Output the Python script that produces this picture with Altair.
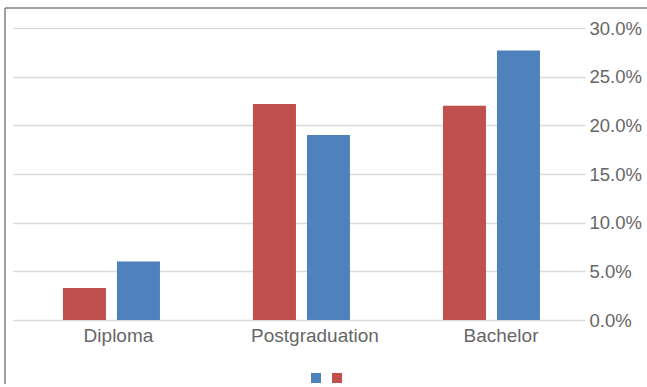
import altair as alt
import pandas as pd

categories = ["Diploma", "Postgraduation", "Bachelor"]
series_names = ["Series1", "Series2"]  # Series1 = red (left bar), Series2 = blue (right bar)
red_values = [0.033, 0.222, 0.220]
blue_values = [0.060, 0.190, 0.277]
y_ticks = [0.0, 0.05, 0.10, 0.15, 0.20, 0.25, 0.30]

RED = "#C0504D"
BLUE = "#4F81BD"
TEXT = "#666666"
FONT = "Liberation Sans"

rows = []
for c, r, b in zip(categories, red_values, blue_values):
    rows.append({"category": c, "series": series_names[0], "value": r})
    rows.append({"category": c, "series": series_names[1], "value": b})
df = pd.DataFrame(rows)

label_shift = {
    "condition": [
        {"test": "datum.value === 'Diploma'", "value": 7},
        {"test": "datum.value === 'Postgraduation'", "value": 13.5},
    ],
    "value": 9.5,
}

bars = alt.Chart(df).mark_bar().encode(
    x=alt.X(
        "category:N",
        sort=categories,
        scale=alt.Scale(paddingInner=0.4895, paddingOuter=0.25, align=0.526),
        axis=alt.Axis(
            title=None, labelAngle=0, ticks=False, domain=False, grid=False,
            labelFontSize=19, labelColor=TEXT, labelFont=FONT, labelPadding=6,
            labelOffset=label_shift,
        ),
    ),
    xOffset=alt.XOffset(
        "series:N",
        sort=series_names,
        scale=alt.Scale(paddingInner=0.2037, paddingOuter=0),
    ),
    y=alt.Y(
        "value:Q",
        scale=alt.Scale(domain=[0, 0.3], nice=False),
        axis=alt.Axis(
            orient="right", title=None, format=".1%", values=y_ticks,
            ticks=False, domain=False, labelFlush=False,
            gridColor="#D9D9D9", gridWidth=1.5,
            labelFontSize=18.5, labelColor=TEXT, labelFont=FONT, labelPadding=4,
        ),
    ),
    color=alt.Color(
        "series:N",
        scale=alt.Scale(domain=[series_names[1], series_names[0]], range=[BLUE, RED]),
        legend=alt.Legend(
            title=None, labelExpr="''", labelOffset=0, orient="none", direction="horizontal",
            legendX=298, legendY=345, symbolType="square", symbolSize=100,
            symbolStrokeWidth=0, columnPadding=11, padding=0,
        ),
    ),
)

border_left = alt.Chart().mark_rule(color="#808080", strokeWidth=1.5).encode(
    x=alt.value(-8), y=alt.value(-20), y2=alt.value(356)
)
border_top = alt.Chart().mark_rule(color="#808080", strokeWidth=1.5).encode(
    x=alt.value(-8), x2=alt.value(640), y=alt.value(-20)
)

chart = alt.layer(bars, border_left, border_top).properties(
    width=572,
    height=292,
    padding={"left": 13, "top": 28, "right": 62, "bottom": 67},
    autosize=alt.AutoSizeParams(type="none"),
    background="white",
).configure_view(stroke=None)

chart.save("out.html", embed_options={"renderer": "svg", "actions": False})
